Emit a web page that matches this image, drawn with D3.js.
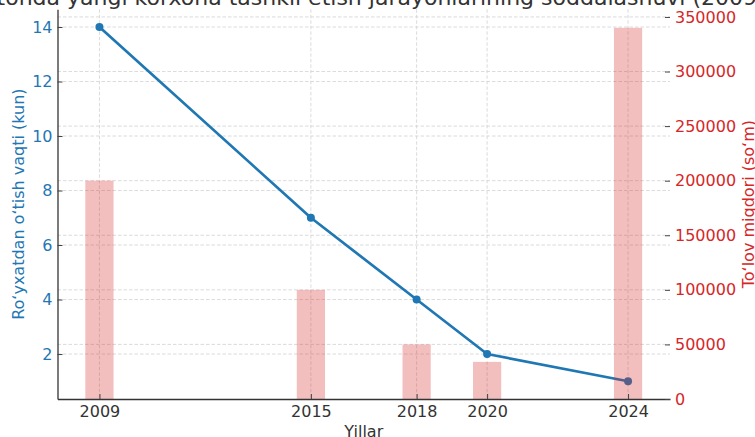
<!DOCTYPE html>
<html>
<head>
<meta charset="utf-8">
<script src="https://cdn.jsdelivr.net/npm/d3@7"></script>
<style>
  html, body { margin: 0; padding: 0; background: #fff; }
  svg { display: block; }
  text { font-family: "DejaVu Sans", sans-serif; }
</style>
</head>
<body>
<svg id="chart" width="755" height="437"></svg>
<script>
const years = [2009, 2015, 2018, 2020, 2024];
const days = [14, 7, 4, 2, 1];
const fees = [200000, 100000, 50000, 34000, 340000];
const leftTicks = [2, 4, 6, 8, 10, 12, 14];
const rightTicks = [0, 50000, 100000, 150000, 200000, 250000, 300000, 350000];

const title = "Oʻzbekistonda yangi korxona tashkil etish jarayonlarining soddalashuvi (2009–2024)";
const xLabel = "Yillar";
const yLeftLabel = "Roʻyxatdan oʻtish vaqti (kun)";
const yRightLabel = "Toʻlov miqdori (soʻm)";

const blue = "#1f77b4", red = "#d62728";
const L = 57.5, R = 670, T = 9.3, B = 399;

const svg = d3.select("#chart");

const x = d3.scaleLinear().domain([2007.81, 2025.19]).range([L, R]);
const y1 = d3.scaleLinear().domain([0.35, 14.65]).range([B, T]);
const y2 = d3.scaleLinear().domain([0, 357000]).range([B, T]);

// grid
const grid = svg.append("g").attr("stroke", "#d2d2d2").attr("stroke-width", 0.8)
  .attr("stroke-dasharray", "3.5,2").attr("fill", "none");
grid.selectAll(".gx").data(years).join("line")
  .attr("x1", d => x(d)).attr("x2", d => x(d)).attr("y1", T).attr("y2", B);
grid.selectAll(".gy1").data(leftTicks).join("line")
  .attr("x1", L).attr("x2", R).attr("y1", d => y1(d)).attr("y2", d => y1(d));
grid.selectAll(".gy2").data(rightTicks.filter(d => d > 0)).join("line")
  .attr("x1", L).attr("x2", R).attr("y1", d => y2(d)).attr("y2", d => y2(d));

// line
const pts = years.map((yr, i) => [yr, days[i]]);
svg.append("path").datum(pts)
  .attr("fill", "none").attr("stroke", blue).attr("stroke-width", 2.7)
  .attr("stroke-linejoin", "round")
  .attr("d", d3.line().x(d => x(d[0])).y(d => y1(d[1])));
svg.selectAll(".dot").data(pts).join("circle")
  .attr("cx", d => x(d[0])).attr("cy", d => y1(d[1])).attr("r", 4).attr("fill", blue);

// bars (over the line, translucent)
const bw = x(2009.4) - x(2008.6);
svg.selectAll(".bar").data(years.map((yr, i) => [yr, fees[i]])).join("rect")
  .attr("x", d => x(d[0]) - bw / 2).attr("width", bw)
  .attr("y", d => y2(d[1])).attr("height", d => B - y2(d[1]))
  .attr("fill", red).attr("fill-opacity", 0.3);

// axes
const fmt = d3.format("d");
const ax = svg.append("g").attr("transform", `translate(0,${B})`)
  .call(d3.axisBottom(x).tickValues(years).tickFormat(fmt).tickSizeInner(-5).tickSizeOuter(0).tickPadding(7));
ax.select(".domain").attr("stroke", "#333").attr("stroke-width", 1.3);
ax.selectAll(".tick line").attr("stroke", "#444");
ax.selectAll("text").attr("font-size", 16).attr("fill", "#333").attr("font-family", "DejaVu Sans");

const al = svg.append("g").attr("transform", `translate(${L},0)`)
  .call(d3.axisLeft(y1).tickValues(leftTicks).tickSizeInner(-5).tickSizeOuter(0).tickPadding(5));
al.select(".domain").attr("stroke", "#333").attr("stroke-width", 1.3);
al.selectAll(".tick line").attr("stroke", "#444");
al.selectAll("text").attr("font-size", 16).attr("fill", blue).attr("font-family", "DejaVu Sans");

const ar = svg.append("g").attr("transform", `translate(${R},0)`)
  .call(d3.axisRight(y2).tickValues(rightTicks).tickFormat(fmt).tickSizeInner(-5).tickSizeOuter(0).tickPadding(5));
ar.select(".domain").remove();
ar.selectAll(".tick line").attr("stroke", "#444");
ar.selectAll("text").attr("font-size", 16).attr("fill", red).attr("font-family", "DejaVu Sans");

// labels
svg.append("text").attr("x", (L + R) / 2).attr("y", 436.5).attr("text-anchor", "middle")
  .attr("font-size", 16).attr("fill", "#333").text(xLabel);
svg.append("text").attr("transform", `translate(24,${(T + B) / 2}) rotate(-90)`)
  .attr("text-anchor", "middle").attr("font-size", 16).attr("fill", blue).text(yLeftLabel);
svg.append("text").attr("transform", `translate(754,${(T + B) / 2}) rotate(-90)`)
  .attr("text-anchor", "middle").attr("font-size", 16).attr("fill", red).text(yRightLabel);

// title (partly outside the canvas, as in the reference)
svg.append("text").attr("x", (L + R) / 2 + 4).attr("y", 5).attr("text-anchor", "middle")
  .attr("font-size", 22).attr("fill", "#333").text(title);
</script>
</body>
</html>
